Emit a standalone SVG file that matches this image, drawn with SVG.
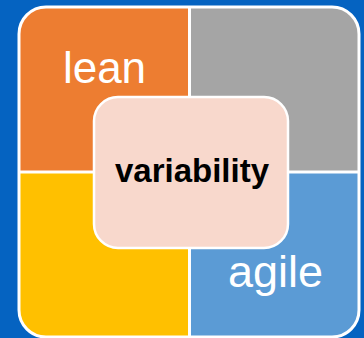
<svg xmlns="http://www.w3.org/2000/svg" width="364" height="338" viewBox="0 0 364 338">
  <defs>
    <clipPath id="frame">
      <rect x="19" y="7" width="340" height="330" rx="27" ry="27"/>
    </clipPath>
    <style>
      .quad { stroke: none; }
      .divider { stroke: #FFFFFF; stroke-width: 3; }
      .label { font-family: "Liberation Sans", Arial, sans-serif; fill: #FFFFFF; }
      .center-label { font-family: "Liberation Sans", Arial, sans-serif; font-weight: bold; fill: #000000; font-size: 33px; }
    </style>
  </defs>
  <rect x="0" y="0" width="364" height="338" fill="#0563C1"/>
  <g id="quadrants" clip-path="url(#frame)">
    <g id="lean"><rect class="quad" x="19" y="7" width="171" height="165" fill="#ED7D31"/></g>
    <g id="gray"><rect class="quad" x="189" y="7" width="170" height="165" fill="#A5A5A5"/></g>
    <g id="yellow"><rect class="quad" x="19" y="172" width="171" height="165" fill="#FFC000"/></g>
    <g id="agile"><rect class="quad" x="189" y="172" width="170" height="165" fill="#5B9BD5"/></g>
    <line class="divider" x1="189.5" y1="7" x2="189.5" y2="337"/>
    <line class="divider" x1="19" y1="172" x2="359" y2="172"/>
  </g>
  <rect x="19" y="7" width="340" height="330" rx="27" ry="27" fill="none" stroke="#FFFFFF" stroke-width="3"/>
  <text class="label" x="104.5" y="83" text-anchor="middle" font-size="44">lean</text>
  <text class="label" x="275.5" y="287" text-anchor="middle" font-size="45">agile</text>
  <g id="variability">
    <rect x="94" y="97" width="194" height="151" rx="24" ry="24" fill="#F8D8CC" stroke="#FFFFFF" stroke-width="2.5"/>
    <text class="center-label" x="192" y="182" text-anchor="middle">variability</text>
  </g>
</svg>
